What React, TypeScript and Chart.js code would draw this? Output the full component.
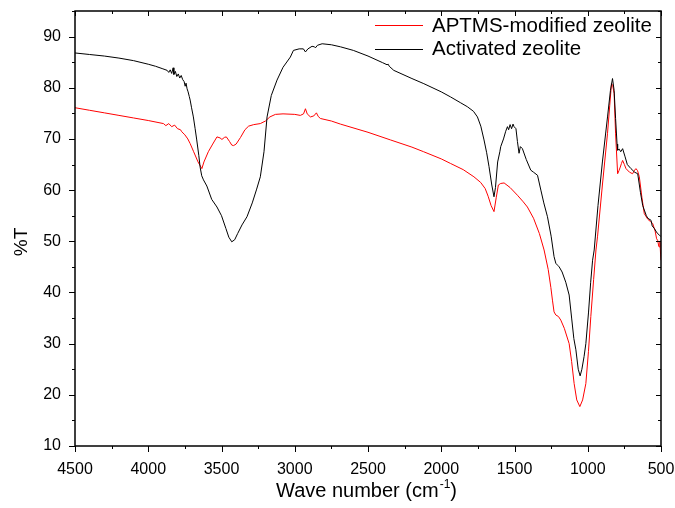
import React, { useEffect, useRef } from "react";
import { Chart, registerables } from "chart.js";

Chart.register(...registerables);

const FONT = "'Liberation Sans', Arial, sans-serif";

// Activated zeolite (black)
const activatedX = [
  4500, 4400, 4300, 4200, 4100, 4000, 3950, 3900, 3871, 3860, 3850, 3840, 3830, 3825, 3815, 3805, 3795, 3785,
  3775, 3765, 3755, 3748, 3742, 3735, 3728, 3720, 3714, 3705, 3692, 3680, 3669, 3655, 3646, 3635, 3623, 3600,
  3567, 3531, 3500, 3470, 3450, 3430, 3410, 3390, 3360, 3326, 3290, 3260, 3235, 3210, 3189, 3160, 3121, 3080,
  3030, 3009, 2970, 2941, 2927, 2910, 2882, 2865, 2859, 2845, 2813, 2750, 2688, 2600, 2500, 2400, 2370, 2362,
  2355, 2324, 2200, 2119, 2000, 1936, 1870, 1822, 1780, 1753, 1730, 1708, 1690, 1674, 1655, 1640, 1630, 1615,
  1600, 1594, 1575, 1560, 1548, 1540, 1530, 1520, 1510, 1503, 1490, 1480, 1469, 1460, 1446, 1420, 1389, 1370,
  1343, 1320, 1300, 1275, 1250, 1230, 1218, 1205, 1195, 1175, 1150, 1127, 1110, 1095, 1081, 1065, 1052, 1040,
  1025, 1013, 995, 980, 967, 956, 930, 900, 865, 845, 831, 820, 810, 800, 796, 785, 775, 762, 745, 730, 705,
  680, 659, 640, 625, 614, 600, 590, 568, 560, 545, 535, 523, 510, 500,
];
const activatedY = [
  86.8, 86.5, 86.2, 85.8, 85.3, 84.6, 84.2, 83.7, 83.4, 83.0, 83.5, 82.8, 83.9, 82.6, 83.2, 82.2, 82.7, 81.9,
  82.4, 81.6, 81.2, 80.3, 80.9, 79.8, 79.2, 78.3, 77.6, 76.2, 74.3, 72.0, 69.8, 66.8, 64.5, 62.8, 62.0, 60.8,
  58.2, 56.7, 55.0, 52.5, 50.8, 49.9, 50.3, 51.5, 53.2, 54.8, 57.5, 60.2, 62.6, 67.5, 74.3, 78.5, 81.5, 84.0,
  86.0, 87.3, 87.6, 87.6, 87.0, 87.6, 88.1, 88.0, 87.8, 88.3, 88.6, 88.4, 88.0, 87.3, 86.2, 84.9, 84.5, 84.6,
  84.2, 83.4, 81.8, 80.8, 79.2, 78.2, 77.1, 76.3, 75.4, 74.3, 72.5, 69.8, 67.3, 64.6, 61.0, 58.7, 60.5, 65.5,
  67.5, 68.5, 70.0, 71.5, 72.4, 71.8, 72.8, 72.0, 72.9, 72.4, 72.0, 69.5, 67.2, 68.5, 68.1, 66.0, 63.9, 63.5,
  62.9, 60.0, 57.5, 54.8, 51.0, 47.0, 45.7, 45.3, 45.0, 44.0, 42.0, 39.5, 35.0, 31.0, 28.8, 25.0, 23.7, 25.0,
  27.5, 30.0, 36.0, 42.0, 46.3, 48.3, 57.0, 65.5, 74.3, 79.5, 81.8, 79.5, 74.0, 69.0, 67.8, 68.0, 67.5, 68.1,
  66.5, 65.0, 64.2, 63.5, 63.2, 59.5, 57.0, 56.1, 55.0, 54.5, 54.1, 53.0, 52.5, 52.0, 51.5, 51.2, 50.9,
];

// APTMS-modified zeolite (red)
const modifiedX = [
  4500, 4400, 4300, 4200, 4100, 4000, 3896, 3880, 3860, 3840, 3820, 3800, 3780, 3771, 3750, 3730, 3714, 3690,
  3660, 3634, 3620, 3590, 3560, 3531, 3510, 3497, 3480, 3467, 3445, 3430, 3418, 3400, 3370, 3340, 3315, 3280,
  3235, 3200, 3170, 3132, 3080, 3000, 2962, 2940, 2927, 2915, 2893, 2870, 2852, 2840, 2825, 2750, 2688, 2500,
  2346, 2200, 2120, 2000, 1936, 1850, 1777, 1731, 1700, 1680, 1660, 1640, 1625, 1610, 1594, 1571, 1530, 1480,
  1440, 1412, 1370, 1330, 1298, 1270, 1252, 1241, 1230, 1218, 1200, 1184, 1160, 1127, 1110, 1093, 1075, 1054,
  1035, 1013, 995, 979, 960, 944, 933, 900, 865, 850, 838, 830, 820, 810, 796, 787, 778, 770, 762, 750, 739,
  715, 694, 680, 671, 660, 648, 630, 614, 590, 570, 557, 540, 530, 523, 515, 512, 507, 503, 500,
];
const modifiedY = [
  76.1, 75.6, 75.1, 74.6, 74.1, 73.6, 73.0, 72.6, 73.0, 72.4, 72.7, 72.0, 71.8, 71.4, 70.8, 70.0, 69.1, 67.5,
  65.5, 64.2, 65.5, 67.5, 69.0, 70.4, 70.2, 69.9, 70.3, 70.4, 69.5, 68.8, 68.7, 69.0, 70.3, 71.8, 72.5, 72.8,
  73.0, 73.5, 74.3, 74.8, 74.9, 74.8, 74.6, 74.9, 75.9, 74.9, 74.3, 74.5, 75.1, 74.4, 74.0, 73.5, 72.9, 71.3,
  69.8, 68.4, 67.5, 66.1, 65.2, 64.0, 62.6, 61.5, 60.3, 58.8, 57.0, 55.8, 58.5, 61.0, 61.3, 61.4, 60.5, 59.0,
  57.7, 56.7, 54.5, 51.5, 48.3, 44.5, 41.0, 38.5, 36.2, 35.6, 35.3, 34.6, 33.0, 30.0, 26.5, 22.2, 19.0, 17.7,
  19.0, 22.2, 28.5, 35.3, 42.5, 48.3, 51.0, 61.0, 71.1, 76.5, 80.8, 80.5, 78.9, 71.0, 63.2, 63.8, 64.5, 65.2,
  65.8, 65.0, 64.2, 63.5, 63.2, 63.9, 64.2, 63.8, 62.6, 58.5, 55.4, 54.3, 53.8, 53.5, 52.0, 50.5, 50.2, 49.0,
  48.9, 50.0, 47.5, 46.3,
];

const seriesNames = ["APTMS-modified zeolite", "Activated zeolite"];
const seriesColors = ["#ff0000", "#000000"];

const xMin = 500;
const xMax = 4500;
const yMin = 10;
const yMax = 95;

const framePlugin = {
  id: "frame",
  afterDraw(chart: any) {
    const ctx = chart.ctx;
    const { left, right, top, bottom } = chart.chartArea;
    const xs = chart.scales.x;
    const ys = chart.scales.y;
    ctx.save();
    ctx.strokeStyle = "#000";
    ctx.lineWidth = 1.5;
    ctx.strokeRect(left, top, right - left, bottom - top);
    ctx.lineWidth = 1;
    ctx.beginPath();
    for (let v = xMin; v <= xMax; v += 250) {
      const px = Math.round(xs.getPixelForValue(v)) + 0.5;
      const major = v % 500 === 0;
      ctx.moveTo(px, bottom);
      ctx.lineTo(px, bottom + (major ? 6 : 3));
      ctx.moveTo(px, top);
      ctx.lineTo(px, top + (major ? 5 : 3));
    }
    for (let v = yMin; v <= yMax; v += 5) {
      const py = Math.round(ys.getPixelForValue(v)) + 0.5;
      const major = v % 10 === 0;
      ctx.moveTo(left, py);
      ctx.lineTo(left - (major ? 6 : 3), py);
      ctx.moveTo(right, py);
      ctx.lineTo(right - (major ? 5 : 3), py);
    }
    ctx.stroke();

    // legend
    const legendY = [25, 48.5];
    ctx.font = `20.5px ${FONT}`;
    ctx.textBaseline = "middle";
    ctx.textAlign = "left";
    for (let i = 0; i < seriesNames.length; i++) {
      ctx.strokeStyle = seriesColors[i];
      ctx.lineWidth = 1;
      ctx.beginPath();
      ctx.moveTo(375, Math.round(legendY[i]) + 0.5);
      ctx.lineTo(423, Math.round(legendY[i]) + 0.5);
      ctx.stroke();
      ctx.fillStyle = "#000";
      ctx.fillText(seriesNames[i], 432, legendY[i] + 1);
    }

    // y title
    ctx.save();
    ctx.translate(27, 242);
    ctx.rotate(-Math.PI / 2);
    ctx.font = `19px ${FONT}`;
    ctx.textAlign = "center";
    ctx.textBaseline = "alphabetic";
    ctx.fillText("%T", 0, 0);
    ctx.restore();

    // x title with superscript
    const main = "Wave number (cm";
    const sup = "-1";
    const close = ")";
    ctx.font = `20px ${FONT}`;
    const wMain = ctx.measureText(main).width;
    const wClose = ctx.measureText(close).width;
    ctx.font = `12px ${FONT}`;
    const wSup = ctx.measureText(sup).width;
    const total = wMain + wSup + wClose;
    const x0 = 366 - total / 2;
    const base = 497;
    ctx.textAlign = "left";
    ctx.textBaseline = "alphabetic";
    ctx.font = `20px ${FONT}`;
    ctx.fillText(main, x0, base);
    ctx.font = `12px ${FONT}`;
    ctx.fillText(sup, x0 + wMain + 1, base - 9);
    ctx.font = `20px ${FONT}`;
    ctx.fillText(close, x0 + wMain + wSup + 1, base);
    ctx.restore();
  },
};

export default function App() {
  const ref = useRef<HTMLCanvasElement | null>(null);
  useEffect(() => {
    if (!ref.current) return;
    const toPts = (xs: number[], ys: number[]) => xs.map((x, i) => ({ x, y: ys[i] }));
    const chart = new Chart(ref.current, {
      type: "line",
      data: {
        datasets: [
          {
            label: seriesNames[1],
            data: toPts(activatedX, activatedY),
            borderColor: seriesColors[1],
            borderWidth: 1,
            pointRadius: 0,
            tension: 0,
            fill: false,
          },
          {
            label: seriesNames[0],
            data: toPts(modifiedX, modifiedY),
            borderColor: seriesColors[0],
            borderWidth: 1,
            pointRadius: 0,
            tension: 0,
            fill: false,
          },
        ],
      },
      options: {
        animation: false,
        responsive: true,
        maintainAspectRatio: false,
        parsing: false as any,
        layout: { padding: { top: 11, right: 14, left: 0, bottom: 0 } },
        plugins: { legend: { display: false }, tooltip: { enabled: false } },
        scales: {
          x: {
            type: "linear",
            reverse: true,
            min: xMin,
            max: xMax,
            afterFit: (s: any) => {
              s.height = 62;
              s.paddingLeft = 0;
              s.paddingRight = 0;
            },
            grid: { display: false, drawTicks: false },
            border: { display: false },
            ticks: {
              stepSize: 500,
              padding: 14,
              color: "#000",
              font: { family: FONT, size: 16 },
              maxRotation: 0,
              callback: (v: any) => String(v),
            },
          },
          y: {
            type: "linear",
            min: yMin,
            max: yMax,
            afterFit: (s: any) => {
              s.width = 75;
              s.paddingTop = 0;
              s.paddingBottom = 0;
            },
            grid: { display: false, drawTicks: false },
            border: { display: false },
            ticks: {
              stepSize: 10,
              includeBounds: false,
              padding: 14,
              color: "#000",
              font: { family: FONT, size: 16 },
              callback: (v: any) => (Number(v) % 10 === 0 ? String(v) : ""),
            },
          },
        },
      },
      plugins: [framePlugin],
    });
    return () => chart.destroy();
  }, []);
  return (
    <div style={{ position: "absolute", left: 0, top: 0, width: 675, height: 508, background: "#fff" }}>
      <canvas ref={ref} />
    </div>
  );
}
